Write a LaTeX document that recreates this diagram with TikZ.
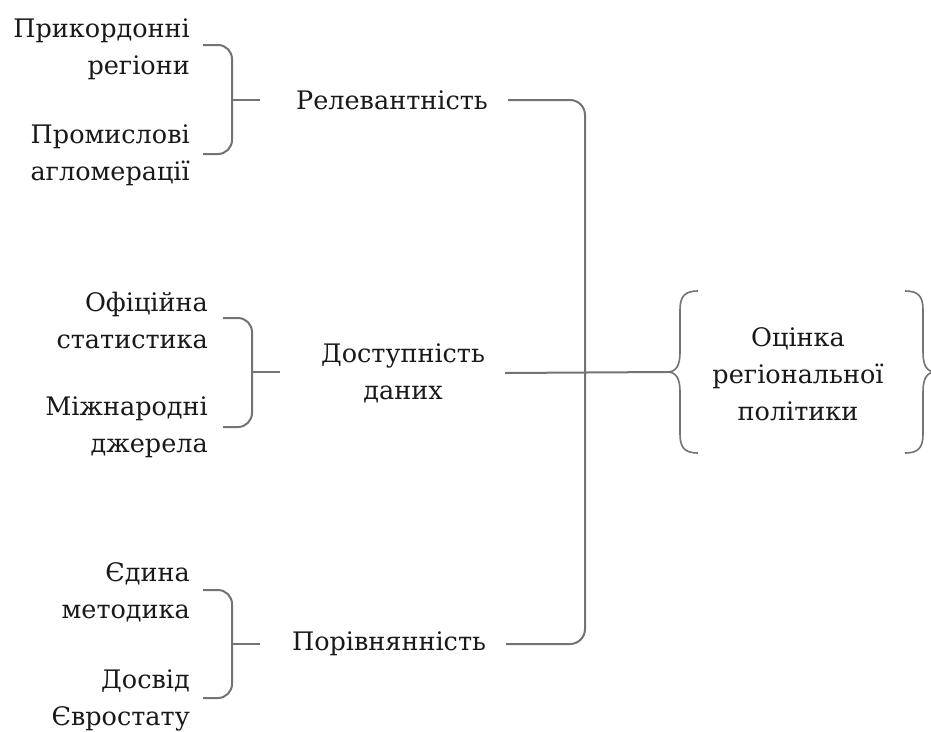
\documentclass[tikz,border=0pt]{standalone}
\usepackage{fontspec}
\newfontfamily\serifua{DejaVu Serif}
\begin{document}
\begin{tikzpicture}[x=1pt,y=-1pt,
  txt/.style={font=\serifua\fontsize{25.5}{37}\selectfont, text=black!90, inner sep=0pt},
  item/.style={txt, align=right, anchor=east},
  mid/.style={txt, align=center, inner xsep=20pt},
  conn/.style={draw=black!55, line width=2pt},
  brk/.style={conn, rounded corners=14pt}]
\useasboundingbox (0,0) rectangle (931,731);
\clip (0,0) rectangle (931,731);
% left items
\node[item] (p1) at (190,49) {Прикордонні\\регіони};
\node[item] (p2) at (190,155) {Промислові\\агломерації};
\node[item] (o1) at (208,320) {Офіційна\\статистика};
\node[item] (o2) at (208,427) {Міжнародні\\джерела};
\node[item] (e1) at (190,592) {Єдина\\методика};
\node[item] (e2) at (190,700) {Досвід\\Євростату};
% middle
\node[mid] (r) at (392,100) {Релевантність};
\node[mid] (d) at (403,373) {Доступність\\даних};
\node[mid] (v) at (389,644) {Порівнянність};
% result
\node[txt, align=center] (c) at (798,374) {Оцінка\\регіональної\\політики};
% small brackets
\draw[brk] (203,45) -- (232,45) -- (232,154) -- (203,154);
\draw[conn] (232,100) -- (260,100);
\draw[brk] (223,318) -- (252,318) -- (252,427) -- (223,427);
\draw[conn] (252,372) -- (280,372);
\draw[brk] (203,590) -- (232,590) -- (232,698) -- (203,698);
\draw[conn] (232,644) -- (260,644);
% tree connector
\coordinate (j) at (585,0);
\coordinate (tip) at (667,372);
\draw[conn, rounded corners=15pt] (r.east) -- (r.east -| j) -- (v.east -| j) -- (v.east);
\draw[conn] (d.east) -- (tip);
% big braces
\draw[conn, line width=1.6pt] (698,291) .. controls (685,291) and (680,296) .. (680,310) -- (680,352)
  .. controls (680,366) and (676,372) .. (tip)
  .. controls (676,372) and (680,378) .. (680,392) -- (680,434)
  .. controls (680,448) and (685,453) .. (698,453);
\draw[conn, line width=1.6pt] (905,291) .. controls (918,291) and (923,296) .. (923,310) -- (923,352)
  .. controls (923,366) and (927,372) .. (936,372)
  .. controls (927,372) and (923,378) .. (923,392) -- (923,434)
  .. controls (923,448) and (918,453) .. (905,453);
\end{tikzpicture}
\end{document}
